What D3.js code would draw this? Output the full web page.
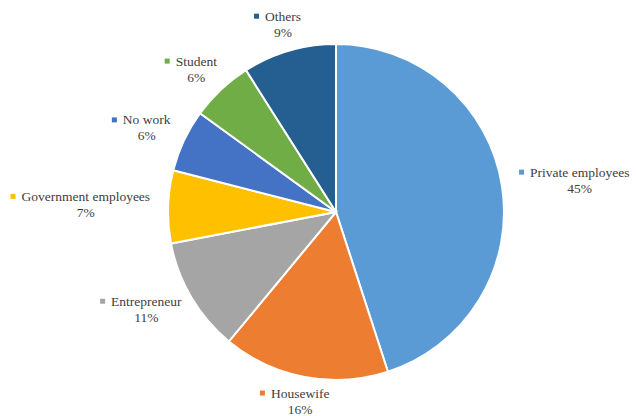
<!DOCTYPE html>
<html>
<head>
<meta charset="utf-8">
<script src="https://cdn.jsdelivr.net/npm/d3@7"></script>
<style>
  body { margin: 0; background: #fff; }
  svg text { font-family: "Liberation Serif"; font-size: 13.5px; fill: #404040; }
</style>
</head>
<body>
<script>
var categories = ["Private employees", "Housewife", "Entrepreneur", "Government employees", "No work", "Student", "Others"];
var percents = [45, 16, 11, 7, 6, 6, 9];
var colors = ["#5B9BD5", "#ED7D31", "#A5A5A5", "#FFC000", "#4472C4", "#70AD47", "#255E91"];

var width = 636, height = 416;
var cx = 336, cy = 212, radius = 168;

var svg = d3.select("body")
  .append("svg")
  .attr("width", width)
  .attr("height", height);

var data = categories.map(function (c, i) { return { name: c, value: percents[i], color: colors[i] }; });

var pie = d3.pie().sort(null).value(function (d) { return d.value; });
var arc = d3.arc().innerRadius(0).outerRadius(radius);
var arcs = pie(data);

var g = svg.append("g").attr("transform", "translate(" + cx + "," + cy + ")");

g.selectAll("path")
  .data(arcs)
  .join("path")
  .attr("d", arc)
  .attr("fill", function (d) { return d.data.color; })
  .attr("stroke", "#fff")
  .attr("stroke-width", 2);

// labels: marker + name on first line, percentage centered under the name
var gap = 18;
arcs.forEach(function (d) {
  var a = (d.startAngle + d.endAngle) / 2;
  var sx = Math.sin(a), sy = -Math.cos(a);
  var lab = g.append("g");
  var name = lab.append("text").attr("text-anchor", "middle").attr("y", -3)
    .attr("font-family", "Liberation Serif").attr("font-size", 13.5)
    .text(d.data.name);
  lab.append("text").attr("text-anchor", "middle").attr("y", 13)
    .attr("font-family", "Liberation Serif").attr("font-size", 13.5)
    .text(d.data.value + "%");
  var tw = name.node().getComputedTextLength();
  lab.append("rect")
    .attr("x", -tw / 2 - 11).attr("y", -10)
    .attr("width", 5).attr("height", 5)
    .attr("fill", d.data.color);
  var bw = tw + 11, bh = 16;
  // anchor just outside the pie, then push the block outward by half its size
  var ax = (radius + gap) * sx + sx * bw / 2;
  var ay = (radius + gap) * sy + sy * bh / 2;
  lab.attr("transform", "translate(" + (ax + 5.5) + "," + (ay - 2) + ")");
});
</script>
</body>
</html>
